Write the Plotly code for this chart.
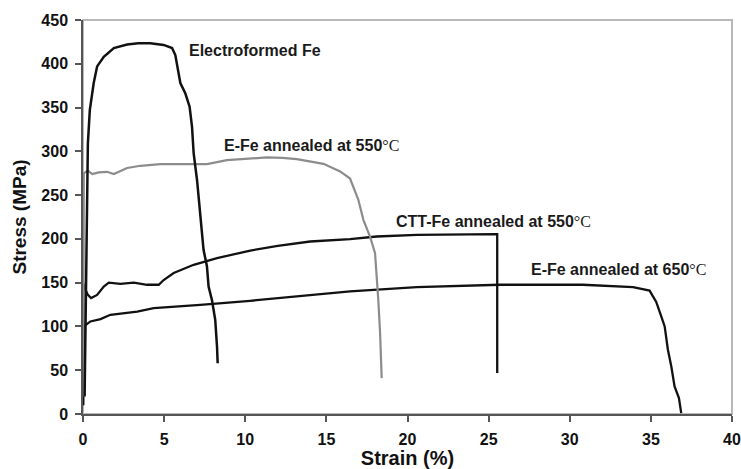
import plotly.graph_objects as go

# Tensile stress-strain curves: strain (%) vs stress (MPa)
electroformed_strain = [0.10, 0.18, 0.22, 0.30, 0.42, 0.66, 0.87, 1.28, 1.90, 2.72, 3.40, 4.15, 4.97, 5.49,
                        5.69, 5.90, 6.00, 6.31, 6.57, 6.72, 6.82, 7.03, 7.23, 7.43, 7.64, 7.74, 7.95,
                        8.15, 8.26, 8.30]
electroformed_stress = [20, 150, 245, 309, 347, 378, 397, 408, 418, 422, 423.5, 423.5, 421.5, 418,
                        410, 385, 378, 366, 351, 328, 298, 267, 225, 187.5, 168.5, 145.6, 130,
                        107.6, 77, 58]

efe550_strain = [0.02, 0.05, 0.30, 0.57, 0.97, 1.48, 1.90, 2.72, 3.54, 4.77, 6.50, 7.64, 8.87, 10.3,
                 11.33, 12.3, 13.18, 14.82, 15.85, 16.46, 16.97, 17.28, 17.69, 18.00, 18.14,
                 18.20, 18.31, 18.41]
efe550_stress = [20, 275, 278, 274, 276, 276.6, 274, 281, 283.5, 285.4, 285.4, 285.4, 290, 291.8,
                 293, 292.5, 291, 285.7, 277, 269, 244.6, 221.8, 202.7, 183.7, 150,
                 130, 92.5, 41]

ctt550_strain = [0.03, 0.01, 0.15, 0.30, 0.50, 0.87, 1.28, 1.59, 2.30, 3.13, 3.95, 4.67, 4.97, 5.59,
                 6.82, 8.26, 10.31, 12.0, 14.0, 16.46, 18.10, 20.57, 25.49, 25.53, 25.53]
ctt550_stress = [50, 149.5, 142, 136, 132.4, 136, 145.6, 150, 148.7, 150, 147.6, 147.6, 153, 161,
                 170.4, 178, 186.7, 192, 197, 199.7, 202.7, 204.6, 205.4, 205.4, 46.8]

efe650_strain = [0.02, 0.05, 0.46, 1.08, 1.69, 2.72, 3.34, 4.36, 5.18, 7.23, 10.3, 13.0, 16.46, 20.57,
                 25.7, 30.8, 33.9, 34.92, 35.23, 35.33, 35.64, 35.85, 36.05, 36.26, 36.46,
                 36.73, 36.87]
efe650_stress = [10, 100, 105.7, 108.4, 113.3, 115.3, 117, 121, 122, 124.7, 129.3, 134, 140, 145,
                 147.6, 147.6, 145, 141, 132, 128, 111.4, 100, 73.4, 54.3, 31.5,
                 18.3, 1]

curve_labels = ["Electroformed Fe", "E-Fe annealed at 550", "CTT-Fe annealed at 550",
                "E-Fe annealed at 650"]
label_x = [6.41, 8.57, 19.19, 27.48]
label_y = [415, 307, 220, 165]

x_ticks = [0, 5, 10, 15, 20, 25, 30, 35, 40]
y_ticks = [0, 50, 100, 150, 200, 250, 300, 350, 400, 450]

BLACK = "#111111"
GREY = "#8c8c8c"
FONT = "Liberation Sans, Arial, sans-serif"

fig = go.Figure()
for xs, ys, col, w in [
    (efe650_strain, efe650_stress, BLACK, 2.3),
    (ctt550_strain, ctt550_stress, BLACK, 2.3),
    (efe550_strain, efe550_stress, GREY, 2.2),
    (electroformed_strain, electroformed_stress, BLACK, 2.5),
]:
    fig.add_trace(go.Scatter(x=xs, y=ys, mode="lines",
                             line=dict(color=col, width=w),
                             showlegend=False, hoverinfo="skip"))

celsius = "<span style='font-family:Liberation Serif, Times New Roman, serif;font-weight:normal'>°C</span>"
for i, (name, lx, ly) in enumerate(zip(curve_labels, label_x, label_y)):
    text = "<b>" + name + "</b>" + ("" if i == 0 else celsius)
    fig.add_annotation(x=lx, y=ly, text=text, showarrow=False,
                       xanchor="left", yanchor="middle",
                       font=dict(family=FONT, size=16, color="#1a1a1a"))

# light frame around the plotting area
fig.add_shape(type="rect", xref="paper", yref="paper", x0=0, x1=1, y0=0, y1=1,
              line=dict(color="#b8b8b8", width=2), layer="below")

axis_common = dict(showgrid=False, zeroline=False, showline=True, linecolor="#555555",
                   linewidth=1.5, ticks="outside", ticklen=6, tickwidth=1.5, tickcolor="#555555",
                   automargin=False, ticklabelstandoff=4,
                   tickfont=dict(family=FONT, size=16, color="#111111"))

fig.update_xaxes(range=[0, 40], tickvals=x_ticks,
                 ticktext=["<b>%d</b>" % v for v in x_ticks],
                 title=dict(text="<b>Strain (%)</b>", standoff=4,
                            font=dict(family=FONT, size=20, color="#111111")),
                 **axis_common)
fig.update_yaxes(range=[0, 450], tickvals=y_ticks,
                 ticktext=["<b>%d</b>" % v for v in y_ticks],
                 title=dict(text="<b>Stress (MPa)</b>", standoff=10,
                            font=dict(family=FONT, size=19, color="#111111")),
                 **axis_common)

fig.update_layout(width=741, height=469, margin=dict(l=83, r=9, t=20, b=55),
                  paper_bgcolor="white", plot_bgcolor="white")

fig.write_html("out.html")
